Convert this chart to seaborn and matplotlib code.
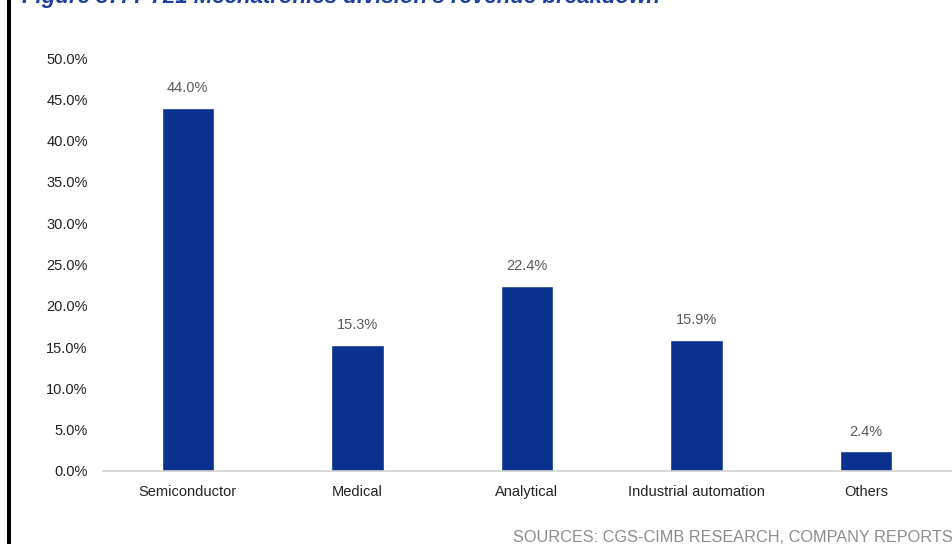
import matplotlib
matplotlib.use("Agg")
import matplotlib.pyplot as plt
import matplotlib.patches as mpatches
import seaborn as sns
import pandas as pd

# Revenue split of the mechatronics division, in percent
categories = ["Semiconductor", "Medical", "Analytical", "Industrial automation", "Others"]
shares = [44.0, 15.3, 22.4, 15.9, 2.4]
y_ticks = [0, 5, 10, 15, 20, 25, 30, 35, 40, 45, 50]

df = pd.DataFrame({"segment": categories, "share": shares})

sns.set_theme(style="white")
plt.rcParams["font.family"] = ["Liberation Sans", "DejaVu Sans"]

fig = plt.figure(figsize=(9.52, 5.44), dpi=100)
ax = fig.add_axes([103 / 952, 73 / 544, 848 / 952, 413 / 544])

bar_color = "#0B318F"
sns.barplot(data=df, x="segment", y="share", color=bar_color, width=0.31,
            saturation=1, ax=ax)

ax.set_ylim(0, 50)
ax.set_xlim(-0.5, len(categories) - 0.5)
ax.set_yticks(y_ticks)
ax.set_yticklabels([f"{t:.1f}%" for t in y_ticks], fontsize=10.5, color="#222222")
ax.set_xticks(range(len(categories)))
ax.set_xticklabels(categories, fontsize=10.5, color="#222222", va="baseline")
ax.tick_params(axis="x", length=0, pad=18)
ax.tick_params(axis="y", length=0, pad=11)
ax.set_xlabel("")
ax.set_ylabel("")

for side in ["top", "right", "left"]:
    ax.spines[side].set_visible(False)
ax.spines["bottom"].set_color("#D0D0D0")
ax.spines["bottom"].set_linewidth(1.2)

for container in ax.containers:
    ax.bar_label(container, labels=[f"{v:.1f}%" for v in shares],
                 padding=9, fontsize=10.5, color="#595959")

# Title band at the top edge and the page rule on the left
fig.text(22 / 952, 1 - 3 / 544, "Figure 37: FY21 Mechatronics division's revenue breakdown",
         fontsize=16, fontweight="bold", fontstyle="italic", color="#1F3FA0",
         ha="left", va="baseline")
fig.add_artist(mpatches.Rectangle((7 / 952, 0), 4 / 952, 1, transform=fig.transFigure,
                                  color="black", lw=0))

fig.text(513 / 952, 2 / 544, "SOURCES: CGS-CIMB RESEARCH, COMPANY REPORTS",
         fontsize=11.7, color="#8C8C8C", ha="left", va="baseline")

fig.savefig("out.png", dpi=100)
